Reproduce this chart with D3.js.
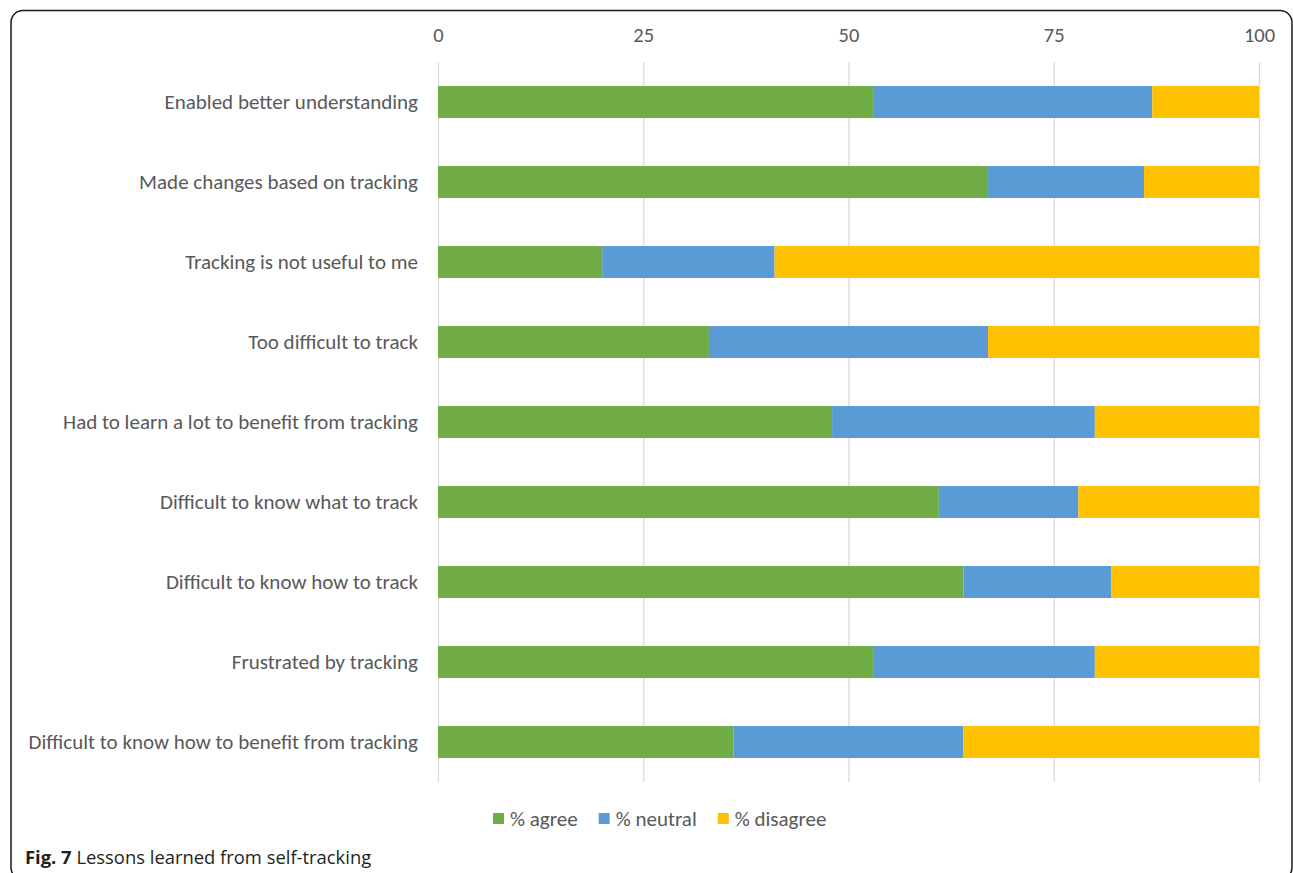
<!DOCTYPE html>
<html>
<head>
<meta charset="utf-8">
<script src="https://cdn.jsdelivr.net/npm/d3@7"></script>
<style>
  html, body { margin: 0; padding: 0; background: #fff; }
  svg { display: block; }
</style>
</head>
<body>
<svg id="chart" width="1293" height="873"></svg>
<script>
const categories = [
  "Enabled better understanding",
  "Made changes based on tracking",
  "Tracking is not useful to me",
  "Too difficult to track",
  "Had to learn a lot to benefit from tracking",
  "Difficult to know what to track",
  "Difficult to know how to track",
  "Frustrated by tracking",
  "Difficult to know how to benefit from tracking"
];
const agree    = [53, 67, 20, 33, 48, 61, 64, 53, 36];
const neutral  = [34, 19, 21, 34, 32, 17, 18, 27, 28];
const disagree = [13, 14, 59, 33, 20, 22, 18, 20, 36];
const seriesNames = ["% agree", "% neutral", "% disagree"];
const seriesColors = ["#70AD47", "#5B9BD5", "#FFC000"];
const tickValues = [0, 25, 50, 75, 100];
const caption = { bold: "Fig. 7", rest: " Lessons learned from self-tracking" };

const svg = d3.select("#chart");
const font = "Carlito, Calibri, Lato, 'Open Sans', sans-serif";
const textColor = "#595959";

// Frame
svg.append("rect")
  .attr("x", 11).attr("y", 10.5)
  .attr("width", 1281).attr("height", 869)
  .attr("rx", 12).attr("ry", 12)
  .attr("fill", "none").attr("stroke", "#1a1a1a").attr("stroke-width", 1.5);

const x = d3.scaleLinear().domain([0, 100]).range([438, 1259]);
const y = d3.scaleBand().domain(categories).range([62, 782]).paddingInner(0.6).paddingOuter(0.3);

// Gridlines
svg.append("g").selectAll("line").data(tickValues).join("line")
  .attr("x1", d => x(d) + 0.5).attr("x2", d => x(d) + 0.5)
  .attr("y1", 62).attr("y2", 782)
  .attr("stroke", "#d9d9d9").attr("stroke-width", 1.3);

// Top axis labels
const xAxis = d3.axisTop(x).tickValues(tickValues).tickSize(0).tickPadding(0);
const gx = svg.append("g").attr("transform", "translate(0,42)").call(xAxis);
gx.select(".domain").remove();
gx.selectAll("text").attr("font-family", font).attr("font-size", 20.5).attr("fill", textColor);

// Stacked bars
const rows = categories.map((c, i) => ({ cat: c, agree: agree[i], neutral: neutral[i], disagree: disagree[i] }));
const stack = d3.stack().keys(["agree", "neutral", "disagree"]);
const layers = stack(rows);
svg.append("g").selectAll("g").data(layers).join("g")
  .attr("fill", (d, i) => seriesColors[i])
  .selectAll("rect").data(d => d).join("rect")
  .attr("x", d => x(d[0]))
  .attr("width", d => x(d[1]) - x(d[0]))
  .attr("y", d => y(d.data.cat))
  .attr("height", y.bandwidth());

// Category labels
const yAxis = d3.axisLeft(y).tickSize(0).tickPadding(20);
const gy = svg.append("g").attr("transform", "translate(438,0)").call(yAxis);
gy.select(".domain").remove();
gy.selectAll("text").attr("font-family", font).attr("font-size", 21).attr("fill", textColor);

// Legend
const legend = svg.append("g");
let lx = 493;
seriesNames.forEach((name, i) => {
  legend.append("rect").attr("x", lx).attr("y", 813).attr("width", 11).attr("height", 11).attr("fill", seriesColors[i]);
  const t = legend.append("text").attr("x", lx + 17).attr("y", 826)
    .attr("font-family", font).attr("font-size", 21).attr("fill", textColor).text(name);
  const w = t.node().getComputedTextLength();
  lx = lx + 17 + w + 21;
});

// Caption
const cap = svg.append("text").attr("x", 25).attr("y", 864)
  .attr("font-family", "'Open Sans', 'Noto Sans', sans-serif").attr("font-size", 18.4).attr("fill", "#231f20");
cap.append("tspan").attr("font-weight", "bold").text(caption.bold);
cap.append("tspan").text(caption.rest);
</script>
</body>
</html>
